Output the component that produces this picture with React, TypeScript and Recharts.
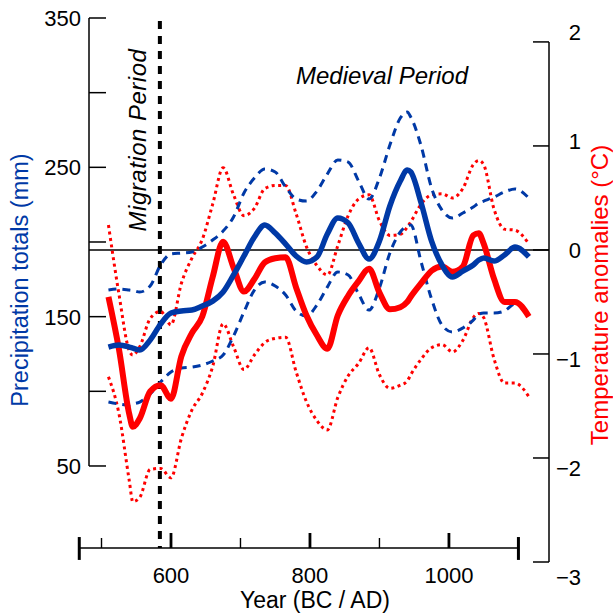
import { ComposedChart, Line, XAxis, YAxis, ReferenceLine } from 'recharts'

// years sampled along the curves (extra points where a peak falls between samples)
const YEARS = [
  510, 525, 540, 545, 555, 570, 585, 600, 615, 630, 645, 660, 675, 690, 705, 720, 735, 750, 765, 780, 795, 810,
  825, 840, 855, 870, 885, 900, 915, 930, 940, 945, 960, 975, 990, 1005, 1020, 1035, 1043, 1050, 1065, 1080,
  1095, 1115,
]

// precipitation (mm), left axis
const PRECIP_MEAN = [
  129.6, 131.0, 129.6, 128.9, 127.6, 134.3, 145.0, 152.4, 153.8, 154.4, 157.1, 160.4, 166.5, 177.9, 190.6, 203.3,
  211.4, 206.0, 198.6, 190.6, 186.6, 189.9, 205.3, 216.0, 212.7, 199.3, 188.6, 200.6, 224.1, 240.8, 248.2, 246.9,
  226.1, 200.6, 184.6, 176.5, 180.5, 184.6, 187.9, 189.3, 187.2, 191.3, 196.6, 190.0,
]
const PRECIP_UPPER = [
  167.8, 168.5, 167.8, 167.5, 166.5, 170.5, 184.6, 192.0, 192.6, 193.3, 196.6, 201.3, 207.3, 216.7, 232.8, 242.8,
  248.9, 246.9, 236.8, 228.8, 227.4, 234.1, 245.5, 254.9, 253.5, 240.8, 228.8, 242.8, 264.9, 283.0, 287.0, 283.7,
  264.3, 236.1, 221.4, 216.0, 219.4, 223.4, 226.1, 227.4, 230.1, 233.5, 235.5, 229.4,
]
const PRECIP_LOWER = [
  92.8, 91.5, 90.8, 91.5, 92.8, 98.2, 106.2, 112.9, 115.6, 116.2, 117.6, 120.3, 124.3, 137.0, 153.1, 167.8, 173.2,
  170.5, 164.5, 153.8, 150.4, 157.8, 169.8, 179.9, 177.9, 165.1, 154.4, 169.2, 192.6, 206.7, 210.7, 211.4, 186.6,
  161.8, 144.4, 139.7, 142.4, 147.7, 151.7, 152.4, 152.4, 153.8, 158.4, 152.4,
]

// temperature anomalies (°C), right axis
const TEMP_MEAN = [
  -0.45, -0.95, -1.58, -1.7, -1.62, -1.36, -1.3, -1.43, -1.02, -0.8, -0.64, -0.26, 0.08, -0.17, -0.4, -0.28, -0.12,
  -0.08, -0.07, -0.36, -0.63, -0.82, -0.95, -0.63, -0.44, -0.3, -0.18, -0.41, -0.57, -0.55, -0.5, -0.45, -0.32,
  -0.2, -0.16, -0.21, -0.16, 0.14, 0.16, 0.06, -0.28, -0.5, -0.5, -0.64,
]
const TEMP_UPPER = [
  0.24, -0.42, -0.97, -1.01, -0.93, -0.66, -0.59, -0.72, -0.32, -0.08, 0.1, 0.44, 0.79, 0.53, 0.33, 0.4, 0.59,
  0.62, 0.62, 0.35, 0.03, -0.15, -0.24, 0.04, 0.33, 0.49, 0.53, 0.28, 0.14, 0.15, 0.22, 0.27, 0.44, 0.53, 0.54,
  0.5, 0.59, 0.82, 0.86, 0.82, 0.39, 0.2, 0.19, 0.06,
]
const TEMP_LOWER = [
  -1.22, -1.57, -2.22, -2.42, -2.38, -2.11, -2.1, -2.19, -1.81, -1.54, -1.38, -1.12, -0.71, -0.93, -1.15, -1.01,
  -0.89, -0.85, -0.84, -1.17, -1.46, -1.64, -1.73, -1.42, -1.21, -1.09, -0.94, -1.2, -1.33, -1.3, -1.26, -1.2,
  -1.05, -0.94, -0.91, -0.98, -0.87, -0.65, -0.61, -0.65, -1.05, -1.28, -1.28, -1.41,
]

const X_TICKS = [500, 600, 700, 800, 900, 1000]
const X_LABELS = [600, 800, 1000]
const X_ENDS = [468, 1100]
const P_TICKS = [50, 100, 150, 200, 250, 300, 350]
const P_LABELS = [50, 150, 250, 350]
const T_TICKS = [-3, -2, -1, 0, 1, 2]
const MIGRATION_YEAR = 584

const rows = YEARS.map((year, i) => ({
  year,
  pMean: PRECIP_MEAN[i],
  pUpper: PRECIP_UPPER[i],
  pLower: PRECIP_LOWER[i],
  tMean: TEMP_MEAN[i],
  tUpper: TEMP_UPPER[i],
  tLower: TEMP_LOWER[i],
}))

// axis ranges, picked so the frame lines up with the original figure
const X_MIN = 482
const X_MAX = 1144
const P_MIN = -14.3
const P_MAX = 350
const T_MIN = -3
const T_MAX = 2.23
const T_AXIS = -2.865 // where the year axis sits, in °C units

const BLUE = '#0039a6'
const RED = '#ff0000'
const FONT = '"Liberation Sans", Arial, Helvetica, sans-serif'

const AXIS_Y = 548
const LEFT_X = 89
const RIGHT_X = 549

const XTick = ({ x, payload }: any) => {
  const major = X_LABELS.includes(payload.value)
  return (
    <g>
      <line x1={x} x2={x} y1={AXIS_Y} y2={AXIS_Y - (major ? 15 : 10)} stroke="#000" strokeWidth={major ? 2.8 : 1.4} />
      {major && (
        <text x={x} y={AXIS_Y + 35} textAnchor="middle" fontSize={22} fontFamily={FONT} fill="#000">
          {payload.value}
        </text>
      )}
    </g>
  )
}

const PTick = ({ y, payload }: any) => (
  <g>
    <line x1={LEFT_X} x2={LEFT_X + 17} y1={y} y2={y} stroke="#000" strokeWidth={1.5} />
    {P_LABELS.includes(payload.value) && (
      <text x={LEFT_X - 8} y={y} dy="0.36em" textAnchor="end" fontSize={22} fontFamily={FONT} fill="#000">
        {payload.value}
      </text>
    )}
  </g>
)

const TTick = ({ y, payload }: any) => {
  const v = payload.value
  return (
    <g>
      <line x1={RIGHT_X - 16} x2={RIGHT_X} y1={y} y2={y} stroke="#000" strokeWidth={1.5} />
      <text x={RIGHT_X + 32} y={y - 5 * v} dy="0.36em" textAnchor="end" fontSize={22} fontFamily={FONT} fill="#000">
        {v < 0 ? `\u2212${-v}` : v}
      </text>
    </g>
  )
}

const XTitle = () => (
  <text x={315} y={608} textAnchor="middle" fontSize={23} fontFamily={FONT} fill="#000">
    Year (BC / AD)
  </text>
)

const PTitle = () => (
  <text x={28} y={280} transform="rotate(-90 28 280)" textAnchor="middle" fontSize={23.5} fontFamily={FONT} fill={BLUE}>
    Precipitation totals (mm)
  </text>
)

const TTitle = () => (
  <text x={608} y={295} transform="rotate(-90 608 295)" textAnchor="middle" fontSize={24} fontFamily={FONT} fill={RED}>
    Temperature anomalies (°C)
  </text>
)

const MigrationLabel = () => (
  <text
    x={146}
    y={140}
    transform="rotate(-90 146 140)"
    textAnchor="middle"
    fontSize={24}
    letterSpacing={0.5}
    fontStyle="italic"
    fontFamily={FONT}
    fill="#000"
  >
    Migration Period
  </text>
)

const MedievalLabel = () => (
  <text x={382} y={84} textAnchor="middle" fontSize={24} fontStyle="italic" fontFamily={FONT} fill="#000">
    Medieval Period
  </text>
)

export default function App() {
  return (
    <div style={{ position: 'fixed', left: 0, top: 0, width: 613, height: 614, background: '#fff' }}>
      <ComposedChart width={613} height={614} data={rows} margin={{ top: 18, right: 0, bottom: 0, left: 0 }}>
        <XAxis
          dataKey="year"
          type="number"
          domain={[X_MIN, X_MAX]}
          allowDataOverflow
          ticks={X_TICKS}
          interval={0}
          tick={XTick}
          axisLine={false}
          tickLine={false}
          height={52}
          label={XTitle}
        />
        <YAxis
          yAxisId="p"
          orientation="left"
          width={89}
          type="number"
          domain={[P_MIN, P_MAX]}
          allowDataOverflow
          ticks={P_TICKS}
          interval={0}
          tick={PTick}
          axisLine={false}
          tickLine={false}
          label={PTitle}
        />
        <YAxis
          yAxisId="t"
          orientation="right"
          width={64}
          type="number"
          domain={[T_MIN, T_MAX]}
          allowDataOverflow
          ticks={T_TICKS}
          interval={0}
          tick={TTick}
          axisLine={false}
          tickLine={false}
          label={TTitle}
        />

        {/* frame */}
        <ReferenceLine
          yAxisId="p"
          segment={[{ x: X_MIN, y: 50 }, { x: X_MIN, y: P_MAX }]}
          stroke="#000"
          strokeWidth={1.5}
          ifOverflow="visible"
        />
        <ReferenceLine
          yAxisId="t"
          segment={[{ x: X_MAX, y: T_MIN }, { x: X_MAX, y: 2 }]}
          stroke="#000"
          strokeWidth={1.5}
          ifOverflow="visible"
        />
        <ReferenceLine
          yAxisId="t"
          segment={[{ x: X_ENDS[0], y: T_AXIS }, { x: X_ENDS[1], y: T_AXIS }]}
          stroke="#000"
          strokeWidth={1.5}
          ifOverflow="visible"
        />
        {X_ENDS.map((yr) => (
          <ReferenceLine
            key={yr}
            yAxisId="t"
            segment={[{ x: yr, y: -2.76 }, { x: yr, y: -2.98 }]}
            stroke="#000"
            strokeWidth={3}
            ifOverflow="visible"
          />
        ))}
        <ReferenceLine yAxisId="t" y={0} stroke="#000" strokeWidth={1.5} ifOverflow="visible" label={MedievalLabel} />
        <ReferenceLine
          yAxisId="t"
          segment={[{ x: MIGRATION_YEAR, y: 2.2 }, { x: MIGRATION_YEAR, y: T_AXIS }]}
          stroke="#000"
          strokeWidth={4}
          strokeDasharray="8 7"
          ifOverflow="visible"
          label={MigrationLabel}
        />

        <Line yAxisId="t" type="monotone" dataKey="tUpper" stroke={RED} strokeWidth={3} strokeDasharray="3 3.5" dot={false} activeDot={false} isAnimationActive={false} />
        <Line yAxisId="t" type="monotone" dataKey="tLower" stroke={RED} strokeWidth={3} strokeDasharray="3 3.5" dot={false} activeDot={false} isAnimationActive={false} />
        <Line yAxisId="p" type="monotone" dataKey="pUpper" stroke={BLUE} strokeWidth={3} strokeDasharray="8 6" dot={false} activeDot={false} isAnimationActive={false} />
        <Line yAxisId="p" type="monotone" dataKey="pLower" stroke={BLUE} strokeWidth={3} strokeDasharray="8 6" dot={false} activeDot={false} isAnimationActive={false} />
        <Line yAxisId="t" type="monotone" dataKey="tMean" stroke={RED} strokeWidth={6} dot={false} activeDot={false} isAnimationActive={false} />
        <Line yAxisId="p" type="monotone" dataKey="pMean" stroke={BLUE} strokeWidth={5.5} dot={false} activeDot={false} isAnimationActive={false} />
      </ComposedChart>
    </div>
  )
}
